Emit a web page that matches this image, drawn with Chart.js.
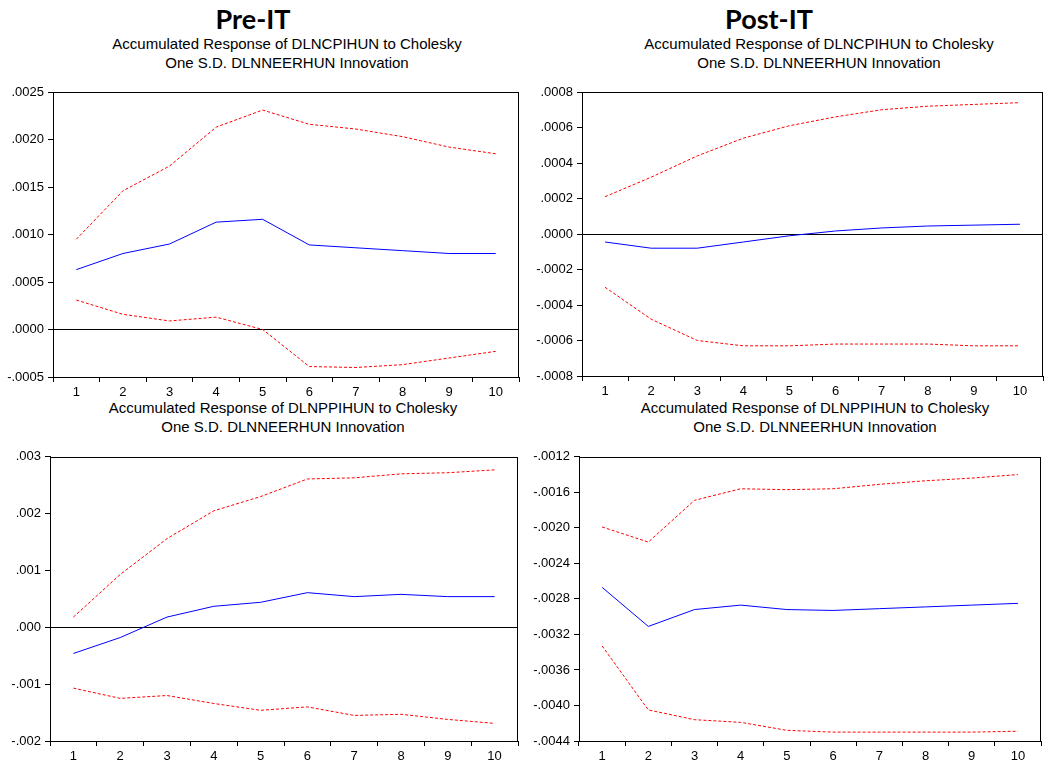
<!DOCTYPE html>
<html>
<head>
<meta charset="utf-8">
<script src="https://cdn.jsdelivr.net/npm/chart.js@4/dist/chart.umd.min.js"></script>
<style>
  body { margin: 0; background: #fff; width: 1045px; height: 763px; position: relative; overflow: hidden; }
  .head { position: absolute; font-family: Lato, "Open Sans", sans-serif; font-weight: bold; font-size: 27px; color: #000; text-align: center; width: 200px; }
  .sub { position: absolute; font-family: "Liberation Sans", Arial, sans-serif; font-size: 15px; line-height: 19px; color: #000; text-align: center; width: 420px; }
  canvas { position: absolute; }
</style>
</head>
<body>
<div class="head" style="left:153px; top:2px;">Pre-IT</div>
<div class="head" style="left:669px; top:2px;">Post-IT</div>
<div class="sub" style="left:77px; top:34px;">Accumulated Response of DLNCPIHUN to Cholesky<br>One S.D. DLNNEERHUN Innovation</div>
<div class="sub" style="left:609px; top:34px;">Accumulated Response of DLNCPIHUN to Cholesky<br>One S.D. DLNNEERHUN Innovation</div>
<div class="sub" style="left:73px; top:398px;">Accumulated Response of DLNPPIHUN to Cholesky<br>One S.D. DLNNEERHUN Innovation</div>
<div class="sub" style="left:605px; top:398px;">Accumulated Response of DLNPPIHUN to Cholesky<br>One S.D. DLNNEERHUN Innovation</div>

<canvas id="cpiPre" width="525" height="325" style="left:0px; top:80px;"></canvas>
<canvas id="cpiPost" width="515" height="325" style="left:530px; top:80px;"></canvas>
<canvas id="ppiPre" width="525" height="318" style="left:0px; top:445px;"></canvas>
<canvas id="ppiPost" width="515" height="318" style="left:530px; top:445px;"></canvas>

<script>
const periods = ['1', '2', '3', '4', '5', '6', '7', '8', '9', '10'];

// CPI response, pre-IT
const cpiPreResp  = [0.00063, 0.00080, 0.00090, 0.00113, 0.00116, 0.00089, 0.00086, 0.00083, 0.00080, 0.00080];
const cpiPreUpper = [0.00095, 0.00146, 0.00172, 0.00213, 0.00231, 0.00216, 0.00211, 0.00203, 0.00192, 0.00185];
const cpiPreLower = [0.00031, 0.00016, 0.00009, 0.00013, 0.00000, -0.00039, -0.00040, -0.00037, -0.00030, -0.00023];
const cpiPreTicks = [-0.0005, 0, 0.0005, 0.0010, 0.0015, 0.0020, 0.0025];

// CPI response, post-IT
const cpiPostResp  = [-0.000045, -0.00008, -0.00008, -0.000045, -0.00001, 0.000017, 0.000034, 0.000045, 0.00005, 0.000055];
const cpiPostUpper = [0.00021, 0.00032, 0.00044, 0.00054, 0.00061, 0.00066, 0.00070, 0.00072, 0.00073, 0.00074];
const cpiPostLower = [-0.00030, -0.00048, -0.00060, -0.00063, -0.00063, -0.00062, -0.00062, -0.00062, -0.00063, -0.00063];
const cpiPostTicks = [-0.0008, -0.0006, -0.0004, -0.0002, 0, 0.0002, 0.0004, 0.0006, 0.0008];

// PPI response, pre-IT
const ppiPreResp  = [-0.00046, -0.00018, 0.00018, 0.00037, 0.00044, 0.00061, 0.00054, 0.00058, 0.00054, 0.00054];
const ppiPreUpper = [0.00018, 0.00093, 0.00156, 0.00205, 0.00230, 0.00261, 0.00263, 0.00270, 0.00272, 0.00277];
const ppiPreLower = [-0.00107, -0.00125, -0.00120, -0.00134, -0.00146, -0.00140, -0.00155, -0.00153, -0.00162, -0.00169];
const ppiPreTicks = [-0.002, -0.001, 0, 0.001, 0.002, 0.003];

// PPI response, post-IT
const ppiPostResp  = [-0.00267, -0.00311, -0.00292, -0.00287, -0.00292, -0.00293, -0.00291, -0.00289, -0.00287, -0.00285];
const ppiPostUpper = [-0.00199, -0.00216, -0.00169, -0.00156, -0.00157, -0.00156, -0.00151, -0.00147, -0.00144, -0.00140];
const ppiPostLower = [-0.00333, -0.00405, -0.00416, -0.00419, -0.00428, -0.00430, -0.00430, -0.00430, -0.00430, -0.00429];
const ppiPostTicks = [-0.0044, -0.0040, -0.0036, -0.0032, -0.0028, -0.0024, -0.0020, -0.0016, -0.0012];

// black box around the plot area
const framePlugin = {
    id: 'frame',
    afterDraw(chart) {
        const a = chart.chartArea;
        const c = chart.ctx;
        c.save();
        c.strokeStyle = '#000';
        c.lineWidth = 1;
        c.strokeRect(Math.round(a.left) + 0.5, Math.round(a.top) + 0.5, Math.round(a.right - a.left) - 1, Math.round(a.bottom - a.top));
        c.restore();
    }
};

function fmt(v, dec) {
    let s = Math.abs(v).toFixed(dec).replace(/^0/, '');
    return (v < -1e-12 ? '-' : '') + s;
}

function dibujar(id, resp, upper, lower, ticks, dec, yWidth, xHeight, padTop, padRight) {
    const ctx = document.getElementById(id).getContext('2d');
    return new Chart(ctx, {
        type: 'line',
        data: {
            labels: periods,
            datasets: [
                { label: 'Response', data: resp, borderColor: '#0000ff', borderWidth: 1, pointRadius: 0, tension: 0 },
                { label: '+2 S.E.', data: upper, borderColor: '#ff0000', borderWidth: 1, borderDash: [3, 2], pointRadius: 0, tension: 0 },
                { label: '-2 S.E.', data: lower, borderColor: '#ff0000', borderWidth: 1, borderDash: [3, 2], pointRadius: 0, tension: 0 }
            ]
        },
        options: {
            responsive: false,
            animation: false,
            devicePixelRatio: 1,
            layout: { padding: { top: padTop, right: padRight, left: 0, bottom: 0 } },
            plugins: { legend: { display: false }, tooltip: { enabled: false } },
            scales: {
                x: {
                    offset: true,
                    grid: { offset: true, drawOnChartArea: false, color: '#000', tickColor: '#000', tickLength: 5 },
                    border: { color: '#000', width: 1 },
                    ticks: { color: '#000', padding: 3, maxRotation: 0, autoSkip: false, font: { family: 'Liberation Sans', size: 13 } },
                    afterFit: s => { s.height = xHeight; }
                },
                y: {
                    min: ticks[0],
                    max: ticks[ticks.length - 1],
                    afterBuildTicks: s => { s.ticks = ticks.map(v => ({ value: v })); },
                    grid: {
                        color: c => (c.tick && c.tick.value === 0) ? '#000' : 'rgba(0,0,0,0)',
                        tickColor: '#000',
                        tickLength: 5,
                        lineWidth: 1
                    },
                    border: { color: '#000', width: 1 },
                    ticks: { color: '#000', padding: 4, callback: v => fmt(v, dec), font: { family: 'Liberation Sans', size: 13 } },
                    afterFit: s => { s.width = yWidth; }
                }
            }
        },
        plugins: [framePlugin]
    });
}

dibujar('cpiPre', cpiPreResp, cpiPreUpper, cpiPreLower, cpiPreTicks, 4, 53, 28, 12, 6);
dibujar('cpiPost', cpiPostResp, cpiPostUpper, cpiPostLower, cpiPostTicks, 4, 52, 29, 12, 2);
dibujar('ppiPre', ppiPreResp, ppiPreUpper, ppiPreLower, ppiPreTicks, 3, 50, 22, 11, 7);
dibujar('ppiPost', ppiPostResp, ppiPostUpper, ppiPostLower, ppiPostTicks, 4, 49, 22, 11, 4);
</script>
</body>
</html>
